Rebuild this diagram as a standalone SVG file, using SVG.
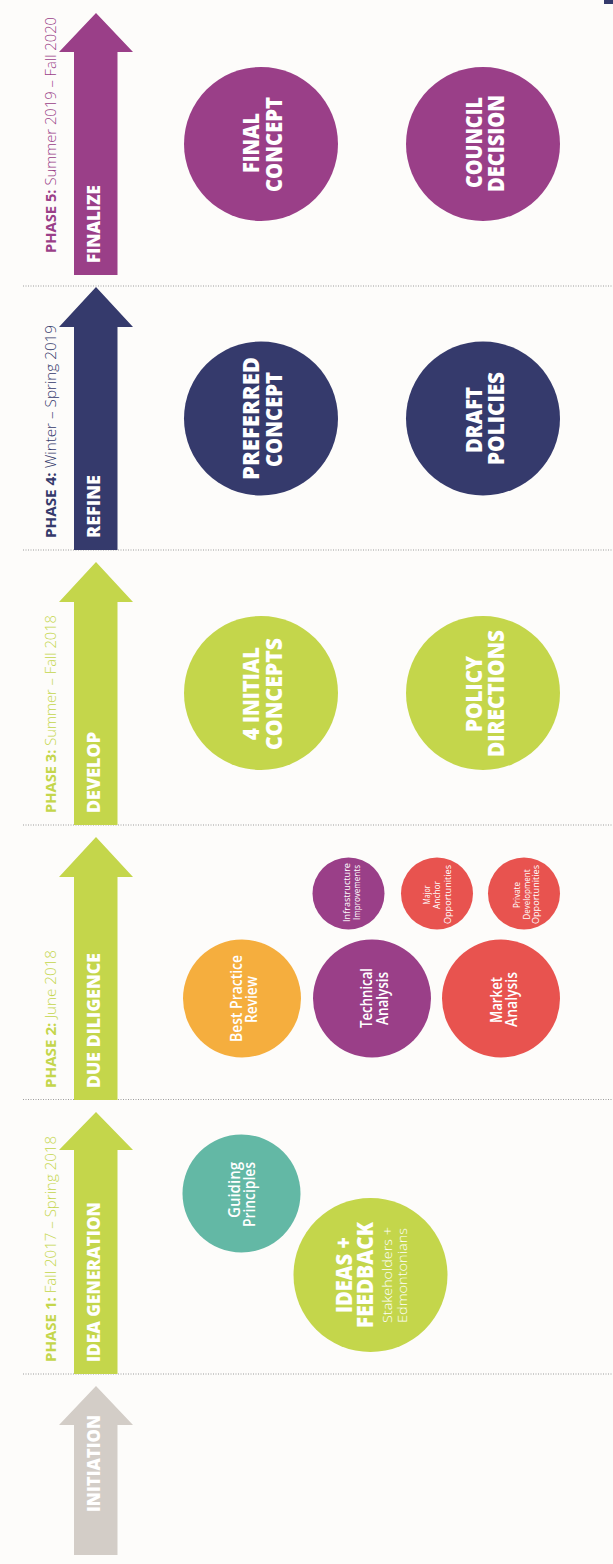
<svg xmlns="http://www.w3.org/2000/svg" width="613" height="1564" viewBox="0 0 613 1564">
<style>
.bg{fill:#fdfcfa}
.sep{stroke:#9c9c9c;stroke-width:1;stroke-dasharray:1 1.5;fill:none}
.purple{fill:#9a3f88}
.navy{fill:#353a6c}
.lime{fill:#c4d64b}
.gray{fill:#d3cdc7}
.orange{fill:#f5ae3e}
.red{fill:#e8534f}
.teal{fill:#63b8a5}
text{font-family:"Open Sans","Noto Sans","Liberation Sans",sans-serif}
.ph{font-size:14.5px;font-weight:300}
.ph .b{font-weight:700}
.al{font-size:17.5px;font-weight:800;fill:#ffffff}
.big{font-size:22px;font-weight:800;fill:#ffffff;text-anchor:middle}
.mid{font-size:16.5px;font-weight:600;fill:#ffffff;text-anchor:middle}
.sm{font-size:9.5px;font-weight:500;fill:#ffffff;text-anchor:middle}
.sub{font-size:13.5px;font-weight:300;fill:#ffffff;text-anchor:middle}
</style>
<rect class="bg" x="0" y="0" width="613" height="1564"/>
<rect class="navy" x="604" y="0" width="9" height="4"/>

<g id="separators">
<line class="sep" x1="23" y1="286" x2="613" y2="286"/>
<line class="sep" x1="23" y1="550" x2="613" y2="550"/>
<line class="sep" x1="23" y1="825" x2="613" y2="825"/>
<line class="sep" x1="23" y1="1099.5" x2="613" y2="1099.5"/>
<line class="sep" x1="23" y1="1374" x2="613" y2="1374"/>
</g>

<g id="connectors"></g>

<g id="phase5">
<polygon class="purple" points="96,13 133,52 117.5,52 117.5,275 74,275 74,52 59,52"/>
<text class="al" transform="translate(100,263) rotate(-90)" textLength="78" lengthAdjust="spacingAndGlyphs">FINALIZE</text>
<text class="ph purple" transform="translate(55.5,253) rotate(-90)" textLength="236" lengthAdjust="spacingAndGlyphs"><tspan class="b">PHASE 5:</tspan> Summer 2019 – Fall 2020</text>
</g>

<g id="phase4">
<polygon class="navy" points="96,287 133,327 117.5,327 117.5,550 74,550 74,327 59,327"/>
<text class="al" transform="translate(100,538) rotate(-90)" textLength="63" lengthAdjust="spacingAndGlyphs">REFINE</text>
<text class="ph navy" transform="translate(55.5,538) rotate(-90)" textLength="213" lengthAdjust="spacingAndGlyphs"><tspan class="b">PHASE 4:</tspan> Winter – Spring 2019</text>
</g>

<g id="phase3">
<polygon class="lime" points="96,562 133,602 117.5,602 117.5,825 74,825 74,602 59,602"/>
<text class="al" transform="translate(100,813) rotate(-90)" textLength="81" lengthAdjust="spacingAndGlyphs">DEVELOP</text>
<text class="ph lime" transform="translate(55.5,813) rotate(-90)" textLength="198" lengthAdjust="spacingAndGlyphs"><tspan class="b">PHASE 3:</tspan> Summer – Fall 2018</text>
</g>

<g id="phase2">
<polygon class="lime" points="96,837 133,877 117.5,877 117.5,1100 74,1100 74,877 59,877"/>
<text class="al" transform="translate(100,1088) rotate(-90)" textLength="135" lengthAdjust="spacingAndGlyphs">DUE DILIGENCE</text>
<text class="ph lime" transform="translate(55.5,1088) rotate(-90)" textLength="138" lengthAdjust="spacingAndGlyphs"><tspan class="b">PHASE 2:</tspan> June 2018</text>
</g>

<g id="phase1">
<polygon class="lime" points="96,1112 133,1150 117.5,1150 117.5,1374 74,1374 74,1150 59,1150"/>
<text class="al" transform="translate(100,1362) rotate(-90)" textLength="160" lengthAdjust="spacingAndGlyphs">IDEA GENERATION</text>
<text class="ph lime" transform="translate(55.5,1362) rotate(-90)" textLength="226" lengthAdjust="spacingAndGlyphs"><tspan class="b">PHASE 1:</tspan> Fall 2017 – Spring 2018</text>
</g>

<g id="initiation">
<polygon class="gray" points="96,1386 133,1425 117.5,1425 117.5,1555 74,1555 74,1425 59,1425"/>
<text class="al" transform="translate(100,1512) rotate(-90)" textLength="97" lengthAdjust="spacingAndGlyphs">INITIATION</text>
</g>

<g id="final-concept">
<circle class="purple" cx="261" cy="144" r="77"/>
<text class="big" transform="translate(258.5,143) rotate(-90)" textLength="60" lengthAdjust="spacingAndGlyphs">FINAL</text>
<text class="big" transform="translate(281.5,144.5) rotate(-90)" textLength="95" lengthAdjust="spacingAndGlyphs">CONCEPT</text>
</g>

<g id="council-decision">
<circle class="purple" cx="483" cy="144" r="77"/>
<text class="big" transform="translate(481.5,142.5) rotate(-90)" textLength="91" lengthAdjust="spacingAndGlyphs">COUNCIL</text>
<text class="big" transform="translate(503.5,143.5) rotate(-90)" textLength="97" lengthAdjust="spacingAndGlyphs">DECISION</text>
</g>

<g id="preferred-concept">
<circle class="navy" cx="261" cy="418.5" r="77"/>
<text class="big" transform="translate(258.5,418.5) rotate(-90)" textLength="123" lengthAdjust="spacingAndGlyphs">PREFERRED</text>
<text class="big" transform="translate(281.5,419.5) rotate(-90)" textLength="95" lengthAdjust="spacingAndGlyphs">CONCEPT</text>
</g>

<g id="draft-policies">
<circle class="navy" cx="483" cy="418.5" r="77"/>
<text class="big" transform="translate(481.5,420) rotate(-90)" textLength="66" lengthAdjust="spacingAndGlyphs">DRAFT</text>
<text class="big" transform="translate(503.5,418.5) rotate(-90)" textLength="93" lengthAdjust="spacingAndGlyphs">POLICIES</text>
</g>

<g id="initial-concepts">
<circle class="lime" cx="261" cy="693" r="77"/>
<text class="big" transform="translate(258.5,693.5) rotate(-90)" textLength="93" lengthAdjust="spacingAndGlyphs">4 INITIAL</text>
<text class="big" transform="translate(281.5,694) rotate(-90)" textLength="112" lengthAdjust="spacingAndGlyphs">CONCEPTS</text>
</g>

<g id="policy-directions">
<circle class="lime" cx="483" cy="693" r="77"/>
<text class="big" transform="translate(481.5,694) rotate(-90)" textLength="76" lengthAdjust="spacingAndGlyphs">POLICY</text>
<text class="big" transform="translate(503.5,693.5) rotate(-90)" textLength="127" lengthAdjust="spacingAndGlyphs">DIRECTIONS</text>
</g>

<g id="best-practice-review">
<circle class="orange" cx="242" cy="998.5" r="59"/>
<text class="mid" transform="translate(241.7,998.5) rotate(-90)" textLength="87" lengthAdjust="spacingAndGlyphs">Best Practice</text>
<text class="mid" transform="translate(257.3,999.5) rotate(-90)" textLength="47" lengthAdjust="spacingAndGlyphs">Review</text>
</g>

<g id="technical-analysis">
<circle class="purple" cx="372" cy="998.5" r="59"/>
<text class="mid" transform="translate(372,998) rotate(-90)" textLength="60" lengthAdjust="spacingAndGlyphs">Technical</text>
<text class="mid" transform="translate(388,998.5) rotate(-90)" textLength="53" lengthAdjust="spacingAndGlyphs">Analysis</text>
</g>

<g id="market-analysis">
<circle class="red" cx="501" cy="998.5" r="59"/>
<text class="mid" transform="translate(502,1000) rotate(-90)" textLength="46" lengthAdjust="spacingAndGlyphs">Market</text>
<text class="mid" transform="translate(517,999.5) rotate(-90)" textLength="55" lengthAdjust="spacingAndGlyphs">Analysis</text>
</g>

<g id="infrastructure-improvements">
<circle class="purple" cx="348.5" cy="893.5" r="36"/>
<text class="sm" transform="translate(349.5,892.5) rotate(-90)" textLength="59" lengthAdjust="spacingAndGlyphs">Infrastructure</text>
<text class="sm" transform="translate(359.5,892.5) rotate(-90)" textLength="55" lengthAdjust="spacingAndGlyphs">Improvements</text>
</g>

<g id="major-anchor-opportunities">
<circle class="red" cx="437" cy="893.5" r="36"/>
<text class="sm" transform="translate(429.5,895) rotate(-90)" textLength="19" lengthAdjust="spacingAndGlyphs">Major</text>
<text class="sm" transform="translate(440,895) rotate(-90)" textLength="28" lengthAdjust="spacingAndGlyphs">Anchor</text>
<text class="sm" transform="translate(450.5,894.5) rotate(-90)" textLength="59" lengthAdjust="spacingAndGlyphs">Opportunities</text>
</g>

<g id="private-development-opportunities">
<circle class="red" cx="524" cy="893.5" r="36"/>
<text class="sm" transform="translate(520,895) rotate(-90)" textLength="26" lengthAdjust="spacingAndGlyphs">Private</text>
<text class="sm" transform="translate(529.5,894.5) rotate(-90)" textLength="50" lengthAdjust="spacingAndGlyphs">Development</text>
<text class="sm" transform="translate(539,894.5) rotate(-90)" textLength="59" lengthAdjust="spacingAndGlyphs">Opportunities</text>
</g>

<g id="guiding-principles">
<circle class="teal" cx="241.5" cy="1193.5" r="59"/>
<text class="mid" transform="translate(240,1190) rotate(-90)" textLength="56" lengthAdjust="spacingAndGlyphs">Guiding</text>
<text class="mid" transform="translate(255,1194.5) rotate(-90)" textLength="65" lengthAdjust="spacingAndGlyphs">Principles</text>
</g>

<g id="ideas-feedback">
<circle class="lime" cx="370.5" cy="1275" r="77"/>
<text class="big" transform="translate(352,1275) rotate(-90)" textLength="76" lengthAdjust="spacingAndGlyphs">IDEAS +</text>
<text class="big" transform="translate(373,1275) rotate(-90)" textLength="106" lengthAdjust="spacingAndGlyphs">FEEDBACK</text>
<text class="sub" transform="translate(391.5,1275) rotate(-90)" textLength="96" lengthAdjust="spacingAndGlyphs">Stakeholders +</text>
<text class="sub" transform="translate(406.5,1275.5) rotate(-90)" textLength="95" lengthAdjust="spacingAndGlyphs">Edmontonians</text>
</g>
</svg>
